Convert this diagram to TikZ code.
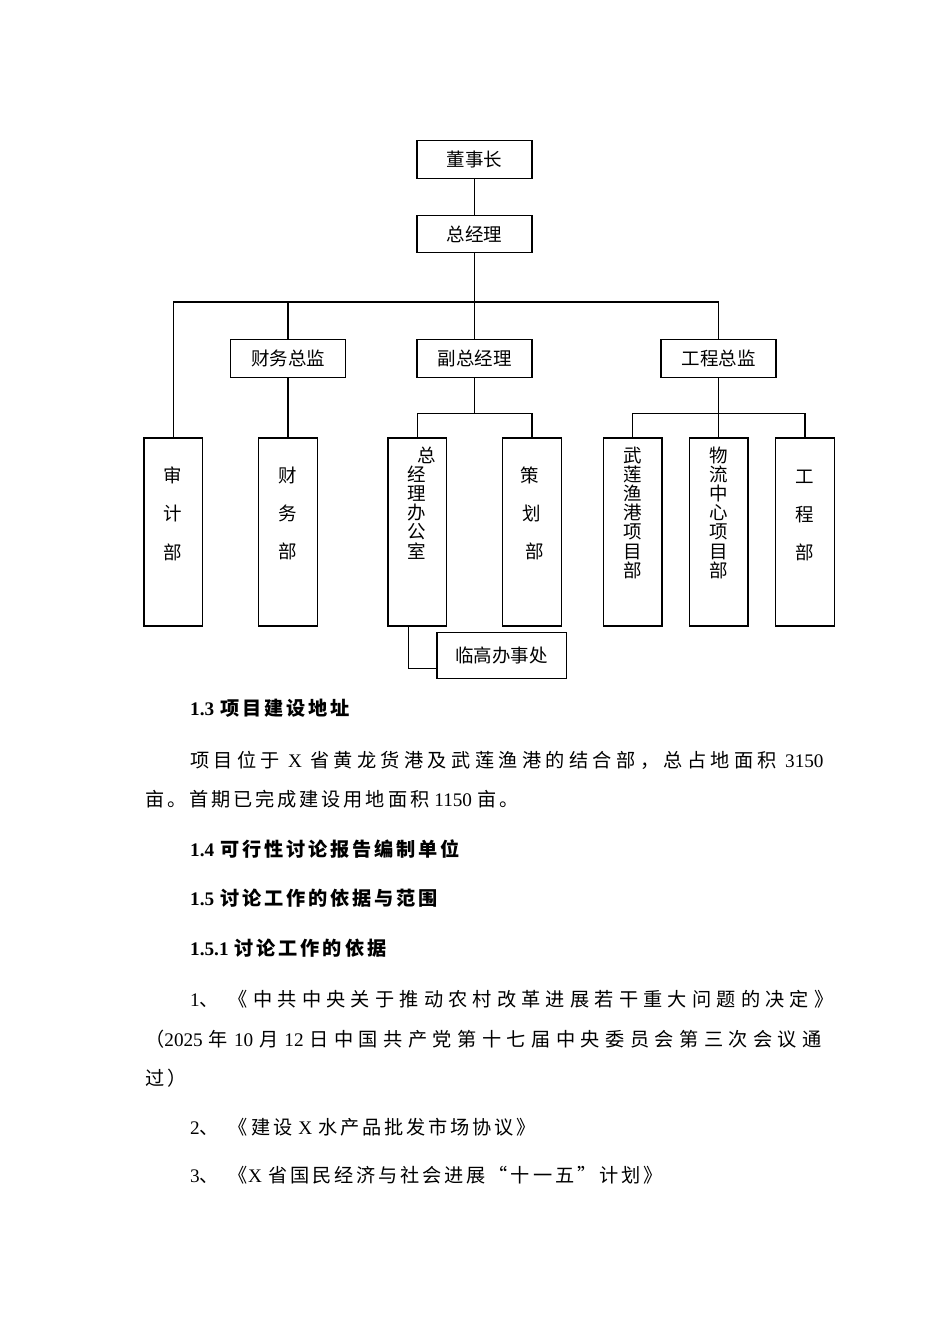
\documentclass[tikz,border=0pt]{standalone}
\usepackage{fontspec}
\setmainfont{Liberation Serif}
\newfontfamily\cjk[LetterSpace=15]{Noto Sans CJK SC}
\newfontfamily\cjkbox{Noto Sans CJK SC}
\usetikzlibrary{positioning}
\newcommand\rmn[1]{{\rmfamily #1}}
\newcommand\spread[1]{\addfontfeatures{LetterSpace=#1}}

\begin{document}
\begin{tikzpicture}[x=1pt,y=-1pt,node distance=74.5pt,on grid,
  box/.style={draw,line width=1.3pt,minimum width=115pt,minimum height=37.5pt,inner sep=0pt,font=\cjkbox\fontsize{18.5}{19.2}\selectfont},
  tall/.style={draw,line width=1.3pt,minimum width=58.7pt,minimum height=188pt,inner sep=0pt},
  vtext/.style={anchor=north,inner sep=0pt,align=center,font=\cjkbox\fontsize{18.5}{19.2}\selectfont},
  txt/.style={anchor=base west,inner sep=0pt,font=\cjk\fontsize{19.2}{24}\selectfont},
  hd/.style={txt,font=\cjk\fontsize{19.2}{24}\selectfont\bfseries},
  link/.style={line width=1.2pt}]
\path[use as bounding box,fill=white] (0,0) rectangle (950,1344);

% top of the chart
\node[box] (dsz) at (474.5,159.5) {董事长};
\node[box] (zjl) [below=of dsz] {总经理};
\node[box] (fzjl) [below=124.5pt of zjl] {副总经理};
\node[box] (cwzj) [left=186.5pt of fzjl] {财务总监};
\node[box] (gczj) [right=244pt of fzjl] {工程总监};

% departments
\node[tall] (cw) [below=173.5pt of cwzj] {};
\node[tall] (sj) [left=114.8pt of cw] {};
\node[tall] (zb) [below left=173.5pt and 57.3pt of fzjl] {};
\node[tall] (ch) [below right=173.5pt and 57.5pt of fzjl] {};
\node[tall] (wlzx) [below=173.5pt of gczj] {};
\node[tall] (wl) [left=86pt of wlzx] {};
\node[tall] (gc) [right=86.5pt of wlzx] {};
\node[box,minimum width=129.3pt,minimum height=45.5pt] (lg) [below right=123.5pt and 84.3pt of zb] {临高办事处};

\node[vtext] (sjt) at ([yshift=-29pt]sj.north) {审\\[19.2pt]计\\[19.2pt]部};
\node[vtext] (cwt) at ([yshift=-29pt]cw.north) {财\\[19.2pt]务\\[19.2pt]部};
\node[vtext] (zbt) at ([yshift=-9pt]zb.north) {\hspace*{19pt}总\\经\\理\\办\\公\\室};
\node[vtext] (cht) at ([yshift=-29pt]ch.north) {策\hspace*{4.5pt}\\[19.2pt]划\hspace*{4.5pt}\\[19.2pt]\hspace*{4.5pt}部};
\node[vtext] (wlt) at ([yshift=-9pt]wl.north) {武\\莲\\渔\\港\\项\\目\\部};
\node[vtext] (wlzxt) at ([yshift=-9pt]wlzx.north) {物\\流\\中\\心\\项\\目\\部};
\node[vtext] (gct) at ([yshift=-32pt]gc.north) {工\\[19.2pt]程\\[19.2pt]部};

% connectors
\coordinate (bus) at (474.5,302);
\coordinate (fb) at (474.5,413.5);
\coordinate (gb) at (718.5,413.5);
\draw[link] (dsz) -- (zjl);
\draw[link] (zjl) -- (fzjl);
\draw[link] (sj.north) |- (bus) -| (gczj.north);
\draw[link] (cwzj.north) -- (cwzj.north |- bus);
\draw[link] (cwzj) -- (cw);
\draw[link] (fzjl) -- (fb);
\draw[link] (zb.north) |- (fb) -| (ch.north);
\draw[link] (gczj) -- (wlzx);
\draw[link] (wl.north) |- (gb) -| (gc.north);
\draw[link] ([xshift=-9pt]zb.south) |- ([yshift=-13pt]lg.west);

% text below the chart
\node[hd] (h13) at (190,715) {\rmn{1.3}\hspace{6pt}项目建设地址};
\node[txt] (p1) at (190,767) {\spread{22.8}项目位于\hspace{8pt}\rmn{X}\hspace{8pt}省黄龙货港及武莲渔港的结合部，总占地面积\hspace{8pt}\rmn{3150}};
\node[txt] (p2) at (145,806) {亩。首期已完成建设用地面积\hspace{5pt}\rmn{1150}\hspace{5pt}亩。};
\node[hd] (h14) at (190,856) {\rmn{1.4}\hspace{6pt}可行性讨论报告编制单位};
\node[hd] (h15) at (190,905) {\rmn{1.5}\hspace{6pt}讨论工作的依据与范围};
\node[hd] (h151) at (190,955) {\rmn{1.5.1}\hspace{6pt}讨论工作的依据};
\node[txt] (i1) at (190,1006) {\spread{27}\rmn{1}、\hspace{10pt}《中共中央关于推动农村改革进展若干重大问题的决定》};
\node[txt] (i1b) at (145,1046) {\spread{28.4}（\rmn{2025}\hspace{6pt}年\hspace{6pt}\rmn{10}\hspace{6pt}月\hspace{6pt}\rmn{12}\hspace{6pt}日中国共产党第十七届中央委员会第三次会议通};
\node[txt] (i1c) at (145,1085) {过）};
\node[txt] (i2) at (190,1134) {\rmn{2}、\hspace{10pt}《建设\hspace{6pt}\rmn{X}\hspace{6pt}水产品批发市场协议》};
\node[txt] (i3) at (190,1182) {\rmn{3}、\hspace{10pt}《\rmn{X}\hspace{6pt}省国民经济与社会进展“十一五”计划》};
\end{tikzpicture}
\end{document}
